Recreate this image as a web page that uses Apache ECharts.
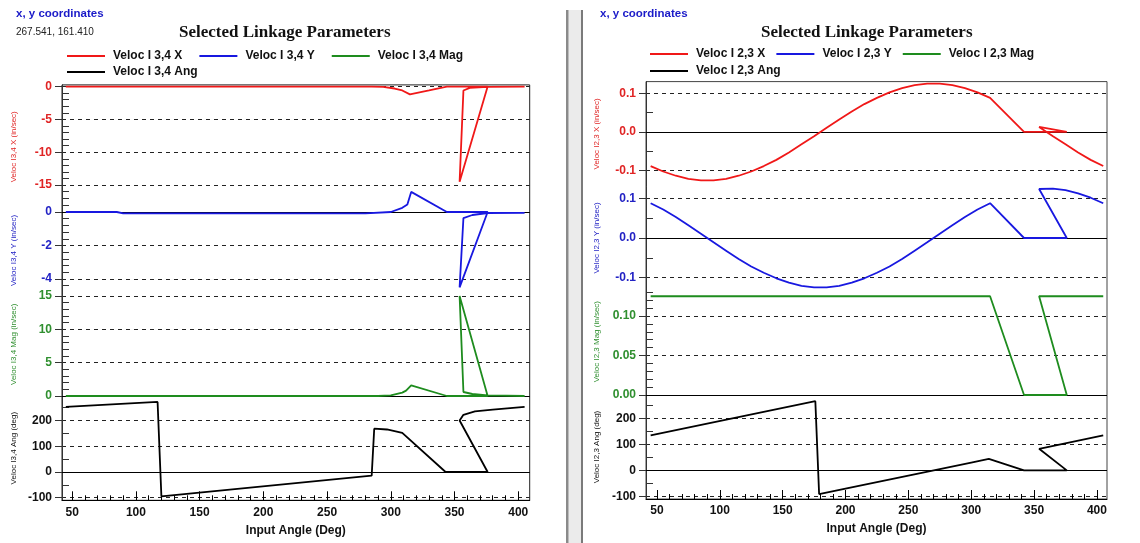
<!DOCTYPE html>
<html><head><meta charset="utf-8">
<script src="https://cdn.jsdelivr.net/npm/echarts@6/dist/echarts.min.js"></script>
<style>html,body{margin:0;padding:0;background:#fff}#c{width:1140px;height:543px}</style>
</head><body><div id="c"></div><script>
// ---------- tick labels ----------
const xLabelValues = [50,100,150,200,250,300,350,400];
const xMinorValues = [60,70,80,90,110,120,130,140,160,170,180,190,210,220,230,240,260,270,280,290,310,320,330,340,360,370,380,390];
const lXTicks = [-15,-10,-5,0];
const lXMinor = [-18,-17,-16,-14,-13,-12,-11,-9,-8,-7,-6,-4,-3,-2,-1];
const lYTicks = [-4,-2,0];
const lYMinor = [-4.4,-3.6,-3.2,-2.8,-2.4,-1.6,-1.2,-0.8,-0.4];
const lMagTicks = [0,5,10,15];
const lMagMinor = [1,2,3,4,6,7,8,9,11,12,13,14];
const angTicks = [-100,0,100,200];
const angMinor = [-50,50,150,250];
const rXTicks = [-0.1,0,0.1];
const rXMinor = [-0.05,0.05];
const rYTicks = [-0.1,0,0.1];
const rYMinor = [-0.05,0.05];
const rMagTicks = [0,0.05,0.1];
const rMagMinor = [0.01,0.02,0.03,0.04,0.06,0.07,0.08,0.09,0.11,0.12,0.13];

// ---------- series names ----------
const leftNames = ['Veloc I 3,4 X','Veloc I 3,4 Y','Veloc I 3,4 Mag','Veloc I 3,4 Ang'];
const rightNames = ['Veloc I 2,3 X','Veloc I 2,3 Y','Veloc I 2,3 Mag','Veloc I 2,3 Ang'];
const leftAxisNames = ['Veloc I3,4 X (in/sec)','Veloc I3,4 Y (in/sec)','Veloc I3,4 Mag (in/sec)','Veloc I3,4 Ang (deg)'];
const rightAxisNames = ['Veloc I2,3 X (in/sec)','Veloc I2,3 Y (in/sec)','Veloc I2,3 Mag (in/sec)','Veloc I2,3 Ang (deg)'];

// ---------- data: [input angle (deg), value] ----------
const leftX = [[45,0],[100,0],[200,0],[285,0],[294,-0.05],[303,-0.3],[309,-0.6],[315,-1.2],[330,-0.6],[344,0],[376,0],[354,-14.5],[357,-0.6],[362,-0.2],[376,-0.05],[405,0]];
const leftY = [[45,0],[85,0],[90,-0.08],[280,-0.08],[300,0],[309,0.25],[313,0.45],[316,1.2],[344,0],[376,0],[354,-4.5],[357,-0.36],[364,-0.18],[376,-0.06],[405,-0.05]];
const leftMag = [[45,0],[290,0],[300,0.1],[309,0.5],[312,0.8],[316,1.6],[344,0],[376,0],[354,15],[357,0.6],[364,0.3],[376,0.1],[405,0]];
const leftAng = [[45,253],[117,272],[120,-95],[285,-14],[287,168],[297,165],[309,152],[343,0],[376,0],[354,200],[357,222],[366,235],[380,242],[405,253]];

const rightX = [[45,-0.088],[55,-0.102],[65,-0.113],[75,-0.121],[85,-0.125],[95,-0.125],[105,-0.121],[115,-0.113],[125,-0.102],[135,-0.088],[145,-0.072],[155,-0.053],[165,-0.032],[175,-0.011],[185,0.011],[195,0.032],[205,0.053],[215,0.072],[225,0.088],[235,0.102],[245,0.113],[255,0.121],[265,0.125],[275,0.125],[285,0.121],[295,0.113],[305,0.102],[315,0.088],[342,0],[376,0],[354,0.013],[365,-0.011],[375,-0.032],[385,-0.053],[395,-0.072],[405,-0.088]];
const rightY = [[45,0.088],[55,0.072],[65,0.053],[75,0.032],[85,0.011],[95,-0.011],[105,-0.032],[115,-0.053],[125,-0.072],[135,-0.088],[145,-0.102],[155,-0.113],[165,-0.121],[175,-0.125],[185,-0.125],[195,-0.121],[205,-0.113],[215,-0.102],[225,-0.088],[235,-0.072],[245,-0.053],[255,-0.032],[265,-0.011],[275,0.011],[285,0.032],[295,0.053],[305,0.072],[315,0.088],[342,0],[376,0],[354,0.124],[365,0.125],[375,0.121],[385,0.113],[395,0.102],[405,0.088]];
const rightMag = [[45,0.125],[315,0.125],[342,0],[376,0],[354,0.125],[405,0.125]];
const rightAng = [[45,135],[176,266],[179,-91],[200,-70],[250,-20],[300,30],[314,44],[342,0],[376,0],[354,83],[405,135]];

// ---------- layout / style ----------
const FONT = '"Liberation Sans", Arial, sans-serif';
const C = {red:'#f01818', blue:'#1818e0', green:'#1e8c1e', black:'#000'};
const LC = {red:'#e02424', blue:'#2222c4', green:'#2f8f2f', black:'#111'};

const grids = [
  {left:62, width:467.7, top:84.9, height:123.8},
  {left:62, width:467.7, top:208.65, height:83.75},
  {left:62, width:467.7, top:292.6, height:103.4},
  {left:62, width:467.7, top:396, height:104.3},
  {left:646, width:461, top:81.6, height:104.6},
  {left:646, width:461, top:186.65, height:102.7},
  {left:646, width:461, top:288.35, height:106.65},
  {left:646, width:461, top:395, height:104}
];
const xRanges = [[42,409],[42,409],[42,409],[42,409],[41.3,408],[41.3,408],[41.3,408],[41.3,408]];
const yCfg = [
  {min:-18.6, max:0.25, t:lXTicks, m:lXMinor, c:'red', n:leftAxisNames[0], f:v=>String(v), gap:44},
  {min:-4.8, max:0.2, t:lYTicks, m:lYMinor, c:'blue', n:leftAxisNames[1], f:v=>String(v), gap:44},
  {min:0, max:15.5, t:lMagTicks, m:lMagMinor, c:'green', n:leftAxisNames[2], f:v=>String(v), gap:44},
  {min:-110, max:295, t:angTicks, m:angMinor, c:'black', n:leftAxisNames[3], f:v=>String(v), gap:44},
  {min:-0.14, max:0.13, t:rXTicks, m:rXMinor, c:'red', n:rightAxisNames[0], f:v=>v.toFixed(1), gap:45},
  {min:-0.13, max:0.13, t:rYTicks, m:rYMinor, c:'blue', n:rightAxisNames[1], f:v=>v.toFixed(1), gap:45},
  {min:0, max:0.135, t:rMagTicks, m:rMagMinor, c:'green', n:rightAxisNames[2], f:v=>v.toFixed(2), gap:45},
  {min:-110, max:290, t:angTicks, m:angMinor, c:'black', n:rightAxisNames[3], f:v=>String(v), gap:45}
];

const xAxes = [];
const yAxes = [];
grids.forEach((g, i) => {
  const bottom = (i === 3 || i === 7);
  if (bottom) {
    xAxes.push({type:'value', gridIndex:i, min:xRanges[i][0], max:xRanges[i][1], position:'bottom',
      axisLine:{show:true, onZero:false, lineStyle:{color:'#000', width:1}},
      axisTick:{show:true, inside:true, length:9, customValues:xLabelValues, lineStyle:{color:'#000'}},
      axisLabel:{customValues:xLabelValues, color:'#111', fontWeight:'bold', fontSize:12, fontFamily:FONT, margin:6},
      splitLine:{show:false},
      name:'Input Angle (Deg)', nameLocation:'middle', nameGap:24,
      nameTextStyle:{color:'#111', fontWeight:'bold', fontSize:12, fontFamily:FONT}});
  } else {
    xAxes.push({type:'value', gridIndex:i, min:xRanges[i][0], max:xRanges[i][1], show:false, axisLine:{onZero:false}});
  }
});
// minor x ticks
[3,7].forEach(i => {
  xAxes.push({type:'value', gridIndex:i, min:xRanges[i][0], max:xRanges[i][1], position:'bottom',
    axisLine:{show:false, onZero:false},
    axisTick:{show:true, inside:true, length:5, customValues:xMinorValues, lineStyle:{color:'#000'}},
    axisLabel:{show:false}, splitLine:{show:false}});
});
yCfg.forEach((y, i) => {
  yAxes.push({type:'value', gridIndex:i, min:y.min, max:y.max, position:'left',
    axisLine:{show:true, onZero:false, lineStyle:{color:'#333', width:1}},
    axisTick:{show:true, inside:false, length:7, customValues:y.t, lineStyle:{color:'#333'}},
    axisLabel:{customValues:y.t, formatter:y.f, color:LC[y.c], fontWeight:'bold', fontSize:12, fontFamily:FONT, margin:10},
    splitLine:{show:true, lineStyle:{color:'#222', width:1, type:[4,4]}},
    name:y.n, nameLocation:'middle', nameRotate:90, nameGap:y.gap,
    nameTextStyle:{color:LC[y.c], fontSize:8, fontFamily:FONT}});
});
yCfg.forEach((y, i) => {
  yAxes.push({type:'value', gridIndex:i, min:y.min, max:y.max, position:'left',
    axisLine:{show:false, onZero:false},
    axisTick:{show:true, inside:true, length:7, customValues:y.m, lineStyle:{color:'#333'}},
    axisLabel:{show:false}, splitLine:{show:false}});
});

const zeroLine = {silent:true, symbol:'none', label:{show:false}, animation:false, z:1,
  lineStyle:{color:'#000', type:'solid', width:1}, data:[{yAxis:0}]};
function mk(name, data, idx, color, zero) {
  const s = {type:'line', name, data, xAxisIndex:idx, yAxisIndex:idx, color,
    symbol:'none', showSymbol:false, clip:false, lineStyle:{width:1.8, color}, z:4};
  if (zero) s.markLine = zeroLine;
  return s;
}
const series = [
  mk(leftNames[0], leftX, 0, C.red, false),
  mk(leftNames[1], leftY, 1, C.blue, true),
  mk(leftNames[2], leftMag, 2, C.green, true),
  mk(leftNames[3], leftAng, 3, C.black, true),
  mk(rightNames[0], rightX, 4, C.red, true),
  mk(rightNames[1], rightY, 5, C.blue, true),
  mk(rightNames[2], rightMag, 6, C.green, true),
  mk(rightNames[3], rightAng, 7, C.black, true)
];

const legendBase = {icon:'rect', itemWidth:38, itemHeight:2, itemGap:17, orient:'horizontal',
  textStyle:{color:'#111', fontWeight:'bold', fontSize:12, fontFamily:FONT, padding:[0,0,0,3]}, selectedMode:false};

const option = {
  animation:false,
  backgroundColor:'#fff',
  title:[
    {text:'Selected Linkage Parameters', left:174, top:19, textStyle:{fontFamily:'"Liberation Serif", "Times New Roman", serif', fontWeight:'bold', fontSize:17, color:'#111'}},
    {text:'Selected Linkage Parameters', left:756, top:19, textStyle:{fontFamily:'"Liberation Serif", "Times New Roman", serif', fontWeight:'bold', fontSize:17, color:'#111'}}
  ],
  legend:[
    Object.assign({}, legendBase, {left:62, top:45, data:leftNames.slice(0,3)}),
    Object.assign({}, legendBase, {left:62, top:61, data:leftNames.slice(3)}),
    Object.assign({}, legendBase, {left:645, top:43, itemGap:11, data:rightNames.slice(0,3)}),
    Object.assign({}, legendBase, {left:645, top:60, data:rightNames.slice(3)})
  ],
  grid: grids,
  xAxis: xAxes,
  yAxis: yAxes,
  series,
  graphic:[
    {type:'rect', shape:{x:569, y:10, width:13, height:533}, style:{fill:'#ebebeb'}, z:-1},
    {type:'rect', shape:{x:566, y:10, width:2, height:533}, style:{fill:'#8a8a8a'}, z:-1},
    {type:'rect', shape:{x:568, y:10, width:1, height:533}, style:{fill:'#bdbdbd'}, z:-1},
    {type:'rect', shape:{x:581, y:10, width:2, height:533}, style:{fill:'#7a7a7a'}, z:-1},
    {type:'rect', shape:{x:62, y:84.9, width:467.7, height:415.4}, style:{fill:'none', stroke:'#222', lineWidth:1}, z:-1},
    {type:'rect', shape:{x:646, y:81.6, width:461, height:417.4}, style:{fill:'none', stroke:'#444', lineWidth:1}, z:-1},
    {type:'text', x:16, y:8, style:{text:'x, y coordinates', fill:'#1a1ac8', font:'bold 11.5px "Liberation Sans", Arial, sans-serif'}},
    {type:'text', x:16, y:27, style:{text:'267.541, 161.410', fill:'#222', font:'10px "Liberation Sans", Arial, sans-serif'}},
    {type:'text', x:600, y:8, style:{text:'x, y coordinates', fill:'#1a1ac8', font:'bold 11.5px "Liberation Sans", Arial, sans-serif'}}
  ]
};
const chart = echarts.init(document.getElementById('c'), null, {renderer:'canvas'});
chart.setOption(option);
</script></body></html>
